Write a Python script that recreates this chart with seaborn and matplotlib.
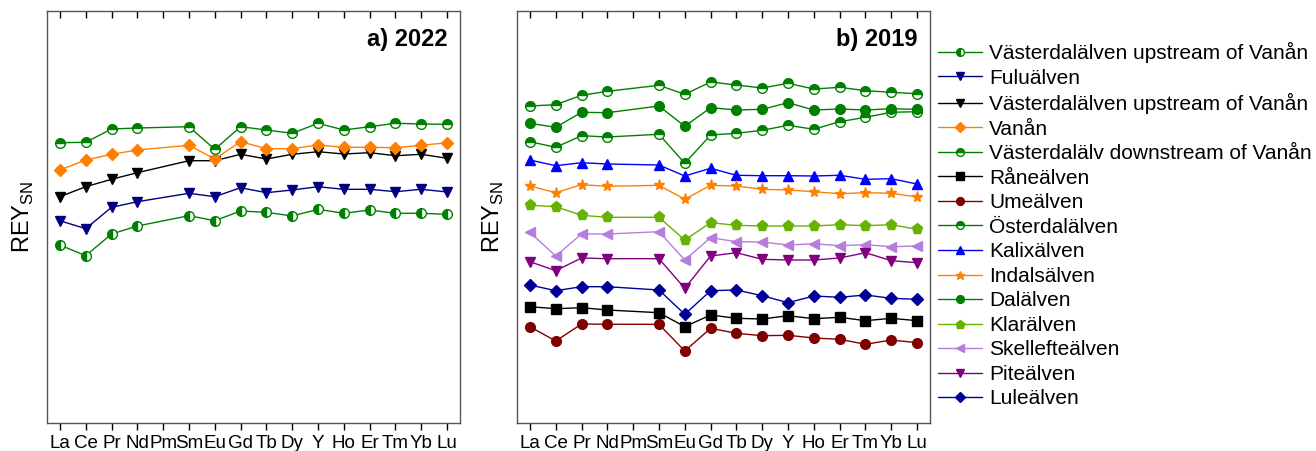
import numpy as np
import pandas as pd
import matplotlib
matplotlib.use("Agg")
import matplotlib.pyplot as plt
import seaborn as sns
from matplotlib.lines import Line2D

sns.set_theme(style="white")
plt.rcParams['font.family'] = ['Liberation Sans', 'DejaVu Sans']
plt.rcParams['text.color'] = 'black'
plt.rcParams['axes.labelcolor'] = 'black'
plt.rcParams['xtick.color'] = 'black'
plt.rcParams['ytick.color'] = 'black'

elements = ["La", "Ce", "Pr", "Nd", "Pm", "Sm", "Eu", "Gd", "Tb", "Dy", "Y", "Ho", "Er", "Tm", "Yb", "Lu"]
nan = np.nan

# ---- panel a) 2022 (arbitrary normalized units, Pm not measured) ----
vast_up_half_2022 = [178, 167.3, 189, 197, nan, 207.3, 202.3, 212, 210.7, 207, 213.7, 209.7, 213, 209.7, 209.7, 208.7]
fulu_2022 = [202.3, 194.3, 215.7, 221.3, nan, 229.7, 226.3, 235.3, 230.3, 233, 236.3, 233.7, 233.7, 231.3, 233.7, 231]
vast_up_tri_2022 = [226.3, 236.3, 243.7, 250.3, nan, 262.3, 262.3, 268.7, 264, 268.7, 271.3, 269, 270.3, 267.3, 268.7, 264.7]
vanan_2022 = [253, 263, 268.7, 273, nan, 277.7, 264, 281.3, 274.3, 274.3, 278, 275.7, 275.7, 275.3, 277.7, 280.3]
vast_down_2022 = [280.3, 280.7, 294, 295, nan, 296.3, 273.7, 296.3, 293, 289.7, 299.7, 293, 296.3, 299.7, 299, 298.7]

# ---- panel b) 2019 ----
vast_down_2019 = [317, 318.3, 327.7, 331.7, nan, 337.7, 328.7, 341, 338, 335, 339.7, 334, 335.7, 332.3, 330.7, 329.3]
dal_2019 = [299.7, 295.7, 310.7, 310.3, nan, 317, 296.7, 315.3, 313, 313.7, 320.3, 313, 314, 313, 314.3, 313.7]
oster_2019 = [281.3, 275.7, 287.3, 286, nan, 288.7, 259.7, 288, 289.7, 292.7, 297.7, 293.7, 301.3, 305.7, 310.7, 311.3]
kalix_2019 = [263, 257.3, 260.3, 259, nan, 258, 247, 254.7, 247.7, 247.3, 247.3, 247, 247.7, 243.7, 244.3, 239]
indals_2019 = [237, 230.3, 238.3, 236.7, nan, 237.7, 223.7, 237.7, 237, 233.7, 233, 231.3, 229.3, 230.3, 229.7, 226]
klar_2019 = [217.7, 216.3, 207.7, 205.7, nan, 205.7, 183, 200.3, 197.7, 197, 197, 197, 198.3, 197.3, 198.3, 193.7]
skellefte_2019 = [190.7, 167, 189, 189, nan, 191.3, 163, 185.3, 181.3, 181, 178, 179.3, 177.3, 178.3, 176.3, 177]
pite_2019 = [161.3, 152.3, 165, 164.3, nan, 164.3, 134.7, 167, 170.3, 163.7, 163, 163, 165, 170.3, 162.3, 160.3]
lule_2019 = [138, 132.3, 136.3, 136.3, nan, 133, 108.7, 132.3, 133, 127.3, 120.3, 127, 125.7, 128, 124.7, 123.7]
rane_2019 = [116.3, 114.3, 115.3, 113, nan, 110.3, 96.3, 108, 104.7, 104, 107.3, 104.3, 105.7, 102.3, 104.7, 102.3]
ume_2019 = [96.3, 82, 99, 98.7, nan, 98.7, 72, 94.7, 89.7, 87.3, 87.7, 85, 83.7, 78.7, 83, 80.3]

GREEN = "#008000"
series_a = [
    ("Västerdalälven upstream of Vanån", vast_up_half_2022, dict(color=GREEN, marker="o", fillstyle="left")),
    ("Fuluälven", fulu_2022, dict(color="#000080", marker="v")),
    ("Västerdalälven upstream of Vanån ", vast_up_tri_2022, dict(color="black", marker="v")),
    ("Vanån", vanan_2022, dict(color="#FF8000", marker="D")),
    ("Västerdalälv downstream of Vanån", vast_down_2022, dict(color=GREEN, marker="o", fillstyle="top")),
]
series_b = [
    ("Råneälven", rane_2019, dict(color="black", marker="s")),
    ("Umeälven", ume_2019, dict(color="#800000", marker="o")),
    ("Österdalälven", oster_2019, dict(color=GREEN, marker="o", fillstyle="top")),
    ("Kalixälven", kalix_2019, dict(color="#0000FF", marker="^")),
    ("Indalsälven", indals_2019, dict(color="#FF8000", marker="*")),
    ("Dalälven", dal_2019, dict(color=GREEN, marker="o")),
    ("Klarälven", klar_2019, dict(color="#66B200", marker="p")),
    ("Skellefteälven", skellefte_2019, dict(color="#B57EDC", marker="<")),
    ("Piteälven", pite_2019, dict(color="#800080", marker="v")),
    ("Luleälven", lule_2019, dict(color="#000099", marker="D")),
    ("_Västerdalälv downstream of Vanån 2019", vast_down_2019, dict(color=GREEN, marker="o", fillstyle="top")),
]

fig = plt.figure(figsize=(13.16, 4.51), dpi=100)
W, H = 1316, 451
ax_a = fig.add_axes([47 / W, 1 - 423 / H, (460 - 47) / W, (423 - 11) / H])
ax_b = fig.add_axes([517 / W, 1 - 423 / H, (930 - 517) / W, (423 - 11) / H])

x_idx = np.arange(len(elements))
handles = []

def draw(ax, series, collect):
    for name, vals, st in series:
        df = pd.DataFrame({"x": x_idx, "y": vals}).dropna()
        ms = 8 if st["marker"] in ("*", "p") else 7
        if st["marker"] == "D":
            ms = 6
        kw = dict(color=st["color"], marker=st["marker"], markersize=ms,
                  markeredgecolor=st["color"], markerfacecolor=st["color"],
                  linewidth=1.0, markeredgewidth=1.0)
        if "fillstyle" in st:
            kw["fillstyle"] = st["fillstyle"]
            kw["markerfacecoloralt"] = "white"
        sns.lineplot(data=df, x="x", y="y", ax=ax, legend=False, estimator=None,
                     sort=False, **kw)
        if collect and not name.startswith("_"):
            hk = dict(kw)
            hk["markersize"] = ms * 0.8
            handles.append(Line2D([0], [0], label=name.strip(), **hk))

draw(ax_a, series_a, True)
draw(ax_b, series_b, True)

for ax, title in ((ax_a, "a) 2022"), (ax_b, "b) 2019")):
    ax.set_xlim(-0.5, 15.5)
    ax.set_ylim(0, 412)
    ax.set_xticks(x_idx)
    ax.set_xticklabels(elements, fontsize=13.5)
    ax.set_yticks([])
    ax.set_xlabel("")
    ax.set_ylabel("REY$_{\\mathregular{SN}}$", fontsize=17, labelpad=8)
    for sp in ax.spines.values():
        sp.set_color("#555555")
        sp.set_linewidth(1.0)
    ax.tick_params(axis="x", which="both", bottom=True, top=True, direction="out",
                   length=5, width=1, color="black", pad=4)
    ax.tick_params(axis="x", top=True, labeltop=False)
    for t in ax.xaxis.get_major_ticks():
        t.tick2line.set_marker(3)  # inward top tick
    ax.text(0.97, 0.93, title, transform=ax.transAxes, ha="right", va="center",
            fontsize=17, fontweight="bold")

fig.legend(handles=handles, loc="upper left", bbox_to_anchor=(938 / W, 1 - 42 / H),
           frameon=False, fontsize=15, handlelength=2.1, handletextpad=0.35,
           labelspacing=0.265, borderaxespad=0, borderpad=0)

fig.savefig("out.png", dpi=100)
